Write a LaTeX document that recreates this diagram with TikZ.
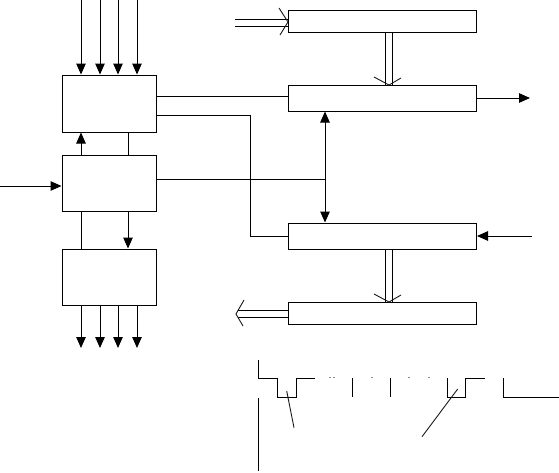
\documentclass[tikz,border=0pt]{standalone}
\usepackage{xcolor}
\usetikzlibrary{arrows.meta, positioning, calc}

\tikzset{
    blockbox/.style={draw=black, line width=1pt, minimum width=94pt, minimum height=#1, inner sep=0pt},
    regbox/.style={draw=black, line width=1pt, minimum width=188.5pt, minimum height=#1, inner sep=0pt},
    sigline/.style={black, line width=1pt},
    sigarrow/.style={black, line width=1pt, -{Triangle[length=11pt, width=9.5pt]}},
    bothways/.style={black, line width=1pt, {Triangle[length=11pt, width=9.5pt]}-{Triangle[length=11pt, width=9.5pt]}},
    openhead/.style={black!90, line width=0.9pt},
    pulse/.style={black, line width=1pt},
    speck/.style={black!45, line width=0.8pt}
}

\begin{document}
\begin{tikzpicture}[x=1pt, y=-1pt]
    \useasboundingbox (0,0) rectangle (559,472);

    % left column
    \node[blockbox=57pt] (boxA) at (109,103.5) {};
    \node[blockbox=56pt] (boxB) at (109,183) {};
    \node[blockbox=56pt] (boxC) at (109,277) {};

    % right column
    \node[regbox=22pt] (regOne) at (382.25,21) {};
    \node[regbox=26pt] (regTwo) at (382.25,98) {};
    \node[regbox=26pt] (regThree) at (382.25,236) {};
    \node[regbox=22pt] (regFour) at (382.25,313) {};

    % inputs and outputs of the left column
    \foreach \x in {81,100,118,137} {
        \coordinate (in\x) at (\x,0);
        \coordinate (out\x) at (\x,348);
        \draw[sigarrow] (in\x) -- (in\x |- boxA.north);
        \draw[sigarrow] (boxC.south -| out\x) -- (out\x);
    }
    \coordinate (inB) at (0,186);
    \draw[sigarrow] (inB) -- (inB -| boxB.west);

    % between the blocks
    \draw[sigarrow] (boxB.north -| 81,0) -- (boxA.south -| 81,0);
    \draw[sigline] (boxA.south -| 128,0) -- (boxB.north -| 128,0);
    \draw[sigline] (boxB.south -| 81,0) -- (boxC.north -| 81,0);
    \draw[sigarrow] (boxB.south -| 128,0) -- (boxC.north -| 128,0);

    % wires to the right column
    \coordinate (busJoin) at (325,179.5);
    \draw[sigline] (boxA.east |- 0,96) -- (regTwo.west |- 0,96);
    \draw[sigline] (boxA.east |- 0,115) -- (250,115) -- (250,236) -- (regThree.west);
    \draw[sigline] (boxB.east |- busJoin) -- (busJoin);
    \draw[bothways] (regTwo.south -| busJoin) -- (regThree.north -| busJoin);

    % single arrows on the right
    \coordinate (outTwo) at (530,98);
    \coordinate (inThree) at (532,236);
    \draw[sigarrow] (regTwo.east) -- (outTwo);
    \draw[sigarrow] (inThree) -- (regThree.east);

    % double arrows
    \coordinate (dblOne) at (235,19);
    \coordinate (dblTwo) at (235,26);
    \draw[sigline] (dblOne) -- (dblOne -| regOne.west);
    \draw[sigline] (dblTwo) -- (dblTwo -| regOne.west);
    \draw[openhead] (279,8) -- (288,22) -- (280,35);

    \foreach \x in {385,392} {
        \draw[sigline] (regOne.south -| \x,0) -- (regTwo.north -| \x,0);
        \draw[sigline] (regThree.south -| \x,0) -- (regFour.north -| \x,0);
    }
    \draw[openhead] (374,77) -- (389,85) -- (401,78);
    \draw[openhead] (374,294) -- (389,302) -- (401,295);

    \coordinate (dblThree) at (238,310.5);
    \coordinate (dblFour) at (238,317.5);
    \draw[sigline] (regFour.west |- dblThree) -- (dblThree);
    \draw[sigline] (regFour.west |- dblFour) -- (dblFour);
    \draw[openhead] (244,300) -- (236,314) -- (243,326);

    % timing wave
    \draw[pulse] (258,360) -- (258,378) -- (277.5,378) -- (277.5,397) -- (296.5,397) -- (296.5,378) -- (315,378);
    \draw[pulse] (258,398) -- (258,471);
    \draw[pulse] (352.5,378) -- (352.5,397);
    \draw[pulse] (390,378) -- (390,397);
    \draw[pulse] (447,378) -- (447,397) -- (465.5,397) -- (465.5,378) -- (485,378);
    \draw[pulse] (503,378) -- (503,397) -- (559,397);
    \foreach \x in {329,333,371,408,428} {
        \draw[speck] (\x,377) -- (\x+1.5,377);
    }

    % leaders
    \draw[openhead] (286.7,391) -- (294,427.7);
    \draw[openhead] (457.7,389) -- (422,436.7);
\end{tikzpicture}
\end{document}
